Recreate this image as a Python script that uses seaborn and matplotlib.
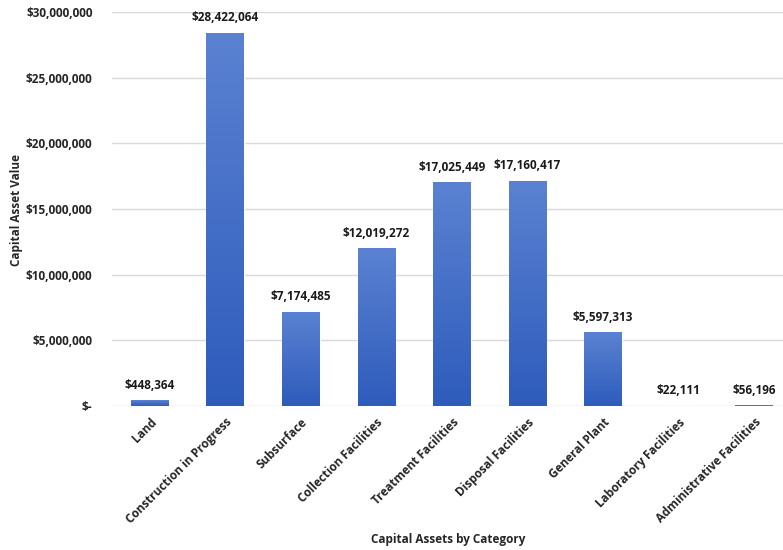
import matplotlib
matplotlib.use("Agg")
import matplotlib.pyplot as plt
import seaborn as sns
import numpy as np
import pandas as pd
from matplotlib.colors import LinearSegmentedColormap

categories = ["Land", "Construction in Progress", "Subsurface", "Collection Facilities",
              "Treatment Facilities", "Disposal Facilities", "General Plant",
              "Laboratory Facilities", "Administrative Facilities"]
values = [448364, 28422064, 7174485, 12019272, 17025449, 17160417, 5597313, 22111, 56196]
value_labels = ["$448,364", "$28,422,064", "$7,174,485", "$12,019,272", "$17,025,449",
                "$17,160,417", "$5,597,313", "$22,111", "$56,196"]
ytick_values = [0, 5000000, 10000000, 15000000, 20000000, 25000000, 30000000]
ytick_labels = ["$-", "$5,000,000", "$10,000,000", "$15,000,000", "$20,000,000",
                "$25,000,000", "$30,000,000"]

sns.set_theme(style="white")
plt.rcParams['font.family'] = ['Open Sans', 'DejaVu Sans']

df = pd.DataFrame({"cat": categories, "val": values})

fig = plt.figure(figsize=(7.83, 5.5), dpi=100)
ax = fig.add_axes([112/783, 1 - 406/550, 1 - 112/783, (406 - 12)/550])

sns.barplot(data=df, x="cat", y="val", color="#3a66c4", width=0.5, ax=ax, saturation=1)

ax.set_ylim(0, 30000000)
ax.set_xlim(-0.5, 8.38)
ax.set_yticks(ytick_values)
ax.set_yticklabels(ytick_labels, fontsize=8.5, fontweight="bold", color="#262626")
ax.set_xticks(range(len(categories)))
ax.set_xticklabels(categories, rotation=45, ha="right", rotation_mode="anchor",
                   fontsize=8.5, fontweight="bold", color="#262626")
ax.tick_params(axis="x", length=0, pad=7)
ax.tick_params(axis="y", length=0, pad=14)
ax.grid(axis="y", color="#d9d9d9", linewidth=1)
ax.set_axisbelow(True)
for s in ax.spines.values():
    s.set_visible(False)

# gradient fill
cmap = LinearSegmentedColormap.from_list("g", ["#2e5cbc", "#5b82d2"])
grad = np.linspace(0, 1, 256).reshape(-1, 1)
for p in ax.patches:
    x0, y0 = p.get_x(), p.get_y()
    w, h = p.get_width(), p.get_height()
    im = ax.imshow(grad, extent=[x0, x0 + w, y0, y0 + h], origin="lower",
                   cmap=cmap, aspect="auto", zorder=p.get_zorder() + 0.1)
    im.set_clip_path(p)

for i, (v, lab) in enumerate(zip(values, value_labels)):
    ax.annotate(lab, (i, v), xytext=(0, 6), textcoords="offset points",
                ha="center", va="bottom", fontsize=8.5, fontweight="bold", color="#1a1a1a")

ax.set_xlabel("Capital Assets by Category", fontsize=8.5, fontweight="bold", color="#262626",
              va="center")
ax.xaxis.set_label_coords((448 - 112) / (783 - 112), -(539 - 406) / 394)
ax.set_ylabel("Capital Asset Value", fontsize=8.5, fontweight="bold", color="#262626",
              va="center")
ax.yaxis.set_label_coords(-(112 - 17) / (783 - 112), (406 - 210) / 394)

fig.savefig("out.png", dpi=100)
